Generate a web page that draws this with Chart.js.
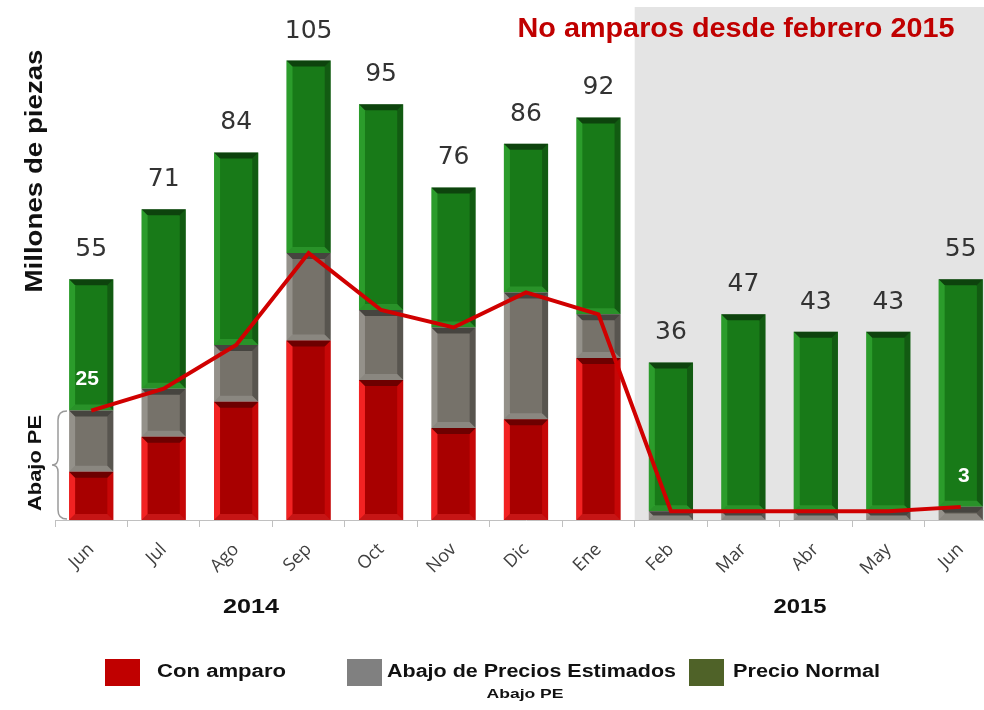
<!DOCTYPE html>
<html>
<head>
<meta charset="utf-8">
<script src="https://cdn.jsdelivr.net/npm/chart.js@4.4.1/dist/chart.umd.min.js"></script>
<style>
  html, body { margin: 0; padding: 0; overflow: hidden; background: #fff; }
  canvas { display: block; }
</style>
</head>
<body>
<canvas id="grafico" width="1000" height="710"></canvas>
<script>
// datos (millones de piezas)
const meses = ['Jun', 'Jul', 'Ago', 'Sep', 'Oct', 'Nov', 'Dic', 'Ene', 'Feb', 'Mar', 'Abr', 'May', 'Jun'];
const conAmparo = [11, 19, 27, 41, 32, 21, 23, 37, 0, 0, 0, 0, 0];
const abajoPrecios = [14, 11, 13, 20, 16, 23, 29, 10, 2, 2, 2, 2, 3];
const precioNormal = [30, 41, 44, 44, 47, 32, 34, 45, 34, 45, 41, 41, 52];
const totales = [55, 71, 84, 105, 95, 76, 86, 92, 36, 47, 43, 43, 55];
const abajoPE = [25, 30, 40, 61, 48, 44, 52, 47, 2, 2, 2, 2, 3];
const anios = [{ texto: '2014', x: 251, w: 56 }, { texto: '2015', x: 800, w: 53 }];

const bisel = {
    rojo: { base: '#a80000', izq: 'rgba(255,40,40,0.85)', der: 'rgba(255,20,20,0.35)', arriba: 'rgba(60,0,0,0.55)', abajo: 'rgba(255,60,60,0.35)' },
    gris: { base: '#76726a', izq: 'rgba(255,255,255,0.22)', der: 'rgba(0,0,0,0.25)', arriba: 'rgba(0,0,0,0.4)', abajo: 'rgba(255,255,255,0.15)' },
    verde: { base: '#187a18', izq: 'rgba(80,220,80,0.35)', der: 'rgba(0,0,0,0.25)', arriba: 'rgba(0,0,0,0.45)', abajo: 'rgba(120,255,120,0.18)' }
};

function textoAjustado(ctx, texto, x, y, ancho, font, color, rot) {
    ctx.save();
    ctx.font = font;
    ctx.fillStyle = color;
    ctx.textAlign = 'center';
    ctx.textBaseline = 'middle';
    const m = ctx.measureText(texto).width;
    ctx.translate(x, y);
    if (rot) ctx.rotate(rot);
    ctx.scale(ancho / m, 1);
    ctx.fillText(texto, 0, 0);
    ctx.restore();
}

const fondoPlugin = {
    id: 'fondo',
    beforeDatasetsDraw(chart) {
        const { ctx, chartArea, scales: { x } } = chart;
        const x0 = (x.getPixelForValue(7) + x.getPixelForValue(8)) / 2;
        ctx.save();
        ctx.fillStyle = '#e4e4e4';
        ctx.fillRect(x0, chartArea.top - 1, chart.width - x0, chartArea.bottom - chartArea.top + 1);
        ctx.restore();
    }
};

const biselPlugin = {
    id: 'bisel',
    afterDatasetDraw(chart, args) {
        const ds = chart.data.datasets[args.index];
        if (!ds.bisel) return;
        const st = bisel[ds.bisel];
        const ctx = chart.ctx;
        args.meta.data.forEach((el) => {
            const { x, y, base, width } = el.getProps(['x', 'y', 'base', 'width'], true);
            const h = base - y;
            if (h <= 0.5) return;
            const b = Math.min(6, h / 2);
            const l = x - width / 2, r = x + width / 2;
            const poly = (pts, c) => {
                ctx.beginPath();
                ctx.moveTo(pts[0][0], pts[0][1]);
                pts.slice(1).forEach(p => ctx.lineTo(p[0], p[1]));
                ctx.closePath();
                ctx.fillStyle = c;
                ctx.fill();
            };
            ctx.save();
            poly([[l, y], [l + b, y + b], [l + b, base - b], [l, base]], st.izq);
            poly([[r, y], [r - b, y + b], [r - b, base - b], [r, base]], st.der);
            poly([[l, y], [r, y], [r - b, y + b], [l + b, y + b]], st.arriba);
            poly([[l, base], [r, base], [r - b, base - b], [l + b, base - b]], st.abajo);
            ctx.restore();
        });
    }
};

const textosPlugin = {
    id: 'textos',
    afterDatasetsDraw(chart) {
        const ctx = chart.ctx;
        const top = chart.getDatasetMeta(2);
        ctx.save();
        ctx.font = '25px "DejaVu Sans"';
        ctx.fillStyle = '#333';
        ctx.textAlign = 'center';
        ctx.textBaseline = 'alphabetic';
        top.data.forEach((el, i) => {
            ctx.fillText(String(totales[i]), el.x, el.y - 23);
        });
        ctx.restore();

        const linea = chart.getDatasetMeta(3);
        [0, 12].forEach((i) => {
            const p = linea.data[i];
            ctx.save();
            ctx.font = 'bold 21px "Liberation Sans"';
            ctx.fillStyle = '#fff';
            ctx.textAlign = 'center';
            ctx.textBaseline = 'middle';
            ctx.fillText(String(abajoPE[i]), p.x + (i === 0 ? -4 : 3), p.y - 31);
            ctx.restore();
        });
    },
    afterDraw(chart) {
        const ctx = chart.ctx;
        textoAjustado(ctx, 'No amparos desde febrero 2015', 736, 30, 437, 'bold 27px "Liberation Sans"', '#c00000');
        textoAjustado(ctx, 'Millones de piezas', 36, 171, 243, 'bold 23px "Liberation Sans"', '#111', -Math.PI / 2);
        textoAjustado(ctx, 'Abajo PE', 36, 463, 96, 'bold 19px "Liberation Sans"', '#111', -Math.PI / 2);

        // llave
        ctx.save();
        ctx.strokeStyle = '#9a9a9a';
        ctx.lineWidth = 1.5;
        ctx.beginPath();
        ctx.moveTo(67, 411);
        ctx.quadraticCurveTo(58, 411, 58, 420);
        ctx.lineTo(58, 458);
        ctx.quadraticCurveTo(58, 465, 52, 465);
        ctx.quadraticCurveTo(58, 465, 58, 472);
        ctx.lineTo(58, 510);
        ctx.quadraticCurveTo(58, 519, 67, 519);
        ctx.stroke();
        ctx.restore();

        anios.forEach(a => textoAjustado(ctx, a.texto, a.x, 607, a.w, 'bold 21px "Liberation Sans"', '#111'));

        // leyenda
        const items = [
            { color: '#c00000', x: 105, texto: 'Con amparo', tx: 157, w: 129 },
            { color: '#808080', x: 347, texto: 'Abajo de Precios Estimados', tx: 387, w: 289 },
            { color: '#4f6228', x: 689, texto: 'Precio Normal', tx: 733, w: 147 }
        ];
        items.forEach(it => {
            ctx.fillStyle = it.color;
            ctx.fillRect(it.x, 659, 35, 27);
            textoAjustado(ctx, it.texto, it.tx + it.w / 2, 672, it.w, 'bold 18px "Liberation Sans"', '#111');
        });
        textoAjustado(ctx, 'Abajo PE', 525, 694, 77, 'bold 13px "Liberation Sans"', '#111');
    }
};

const ctx = document.querySelector('#grafico');

new Chart(ctx, {
    data: {
        labels: meses,
        datasets: [
            { type: 'bar', label: 'Con amparo', data: conAmparo, backgroundColor: bisel.rojo.base, bisel: 'rojo', order: 1 },
            { type: 'bar', label: 'Abajo de Precios Estimados', data: abajoPrecios, backgroundColor: bisel.gris.base, bisel: 'gris', order: 1 },
            { type: 'bar', label: 'Precio Normal', data: precioNormal, backgroundColor: bisel.verde.base, bisel: 'verde', order: 1 },
            { type: 'line', label: 'Abajo PE', data: abajoPE, borderColor: '#d00000', borderWidth: 4, pointRadius: 0, tension: 0, stack: 'linea', order: 0 }
        ]
    },
    options: {
        responsive: false,
        animation: false,
        layout: { padding: { left: 55, right: 3, top: 8, bottom: 0 } },
        datasets: { bar: { categoryPercentage: 0.61, barPercentage: 1 } },
        plugins: { legend: { display: false }, tooltip: { enabled: false } },
        scales: {
            x: {
                stacked: true,
                grid: { drawOnChartArea: false, color: '#c0c0c0', tickLength: 7, offset: true },
                border: { color: '#c0c0c0' },
                ticks: { minRotation: 45, maxRotation: 45, padding: 12, color: '#404040', font: { family: 'Open Sans', size: 18 } },
                afterFit(scale) { scale.height = 190; }
            },
            y: {
                stacked: true,
                display: false,
                min: 0,
                max: 117
            }
        }
    },
    plugins: [fondoPlugin, biselPlugin, textosPlugin]
});
</script>
</body>
</html>
